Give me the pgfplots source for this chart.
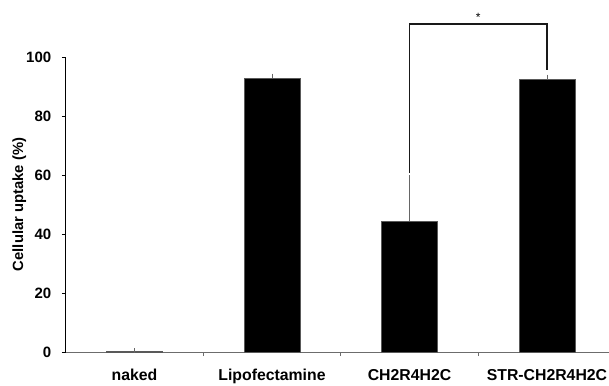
\documentclass[border=0pt]{standalone}
\usepackage{pgfplots}
\pgfplotsset{compat=1.18}
\usepackage{fontspec}
\setmainfont{Liberation Sans}
\begin{document}
\begin{tikzpicture}[x=1pt,y=1pt]
\path[use as bounding box] (0,0) rectangle (609,385);
\begin{axis}[
  at={(65.75pt,33pt)}, anchor=south west,
  scale only axis, width=544.5pt, height=295pt,
  xmin=-0.5, xmax=3.46, ymin=0, ymax=100,
  axis x line=bottom, axis y line=left,
  x axis line style={draw=gray!85!black, line width=0.9pt, -},
  y axis line style={draw=black, line width=0.7pt, -},
  xtick={0.5,1.5,2.5}, xticklabels={},
  extra x ticks={0,1,2,3},
  extra x tick labels={naked,Lipofectamine,CH2R4H2C,STR-CH2R4H2C},
  extra x tick style={major tick length=0pt, tick style={draw=none},
    tick label style={font=\fontsize{15.8}{18}\selectfont\bfseries, yshift=-14pt}},
  ytick={0,20,40,60,80,100},
  tick align=outside, major tick length=4pt,
  x tick style={draw=gray!85!black, line width=0.6pt},
  y tick style={draw=black, line width=0.6pt},
  /pgf/number format/assume math mode=true,
  y tick label style={font=\fontsize{15}{18}\selectfont\bfseries, xshift=-7pt},
  ylabel={Cellular uptake (\%)},
  ylabel style={font=\fontsize{14.8}{17}\selectfont\bfseries, at={(axis description cs:-0.0855,0.5)}, anchor=center},
  clip=false,
]
\addplot[ybar, bar width=56pt, fill=black, draw=gray!70!black, line width=0.5pt,
  error bars/.cd, y dir=plus, y explicit,
  error bar style={draw=gray!80!black, line width=0.8pt},
  error mark options={draw=gray!80!black, line width=0.8pt, mark size=2.2pt}]
  coordinates {(0,0.3) +- (0,0.2) (1,92.8) +- (0,0.8) (2,44.3) +- (0,15.0) (3,92.3) +- (0,1.0)};
\draw[black!90, line width=1.1pt] (axis cs:2,60.7) -- (axis cs:2,111.2) -- (axis cs:3,111.2) -- (axis cs:3,95.6);
\node[font=\fontsize{12}{14}\selectfont] at (axis cs:2.5,113.6) {*};
\end{axis}
\end{tikzpicture}
\end{document}
